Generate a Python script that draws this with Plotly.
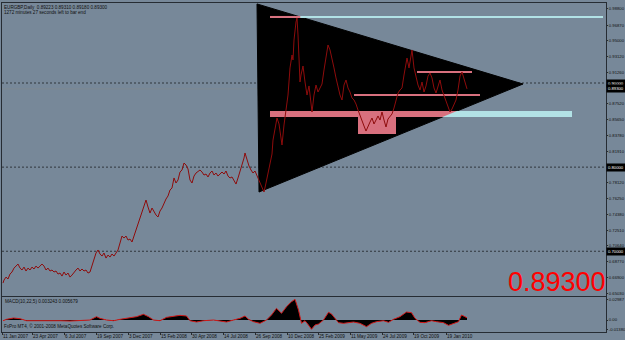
import plotly.graph_objects as go

# ---------------- data ----------------
bars = [0, 2, 6, 10, 14, 18, 22, 26, 30, 34, 38, 42, 46, 50, 54, 58, 62, 66, 70, 74, 78, 82, 86, 90, 94, 98,
        102, 106, 110, 114, 118, 122, 126, 130, 134, 138, 142, 146, 150, 154, 158, 162, 166, 170, 174, 178,
        182, 186, 190, 194, 198, 202, 206, 210, 214, 218, 222, 226, 230, 234, 238, 242, 246, 250, 254, 258,
        262, 266, 270, 274, 278, 282, 286, 290, 294, 298, 302, 306, 310, 314, 318, 322, 326, 330, 334, 338,
        342, 346, 350, 354, 358, 362, 366, 370, 374, 378, 382, 386, 390, 394, 398, 402, 406, 410, 414, 418,
        422, 426, 430, 434, 438, 442, 446, 450, 454, 458, 462, 466, 470, 474, 478, 482, 484, 488, 492, 496,
        500, 504, 508, 512, 516, 520, 522, 526, 530, 534, 538, 540, 544, 548, 552, 556, 558, 562, 566, 570,
        574, 578, 580, 582, 586, 588, 590, 592, 594, 596, 600, 604, 608, 612, 616, 618, 622, 626, 630, 634,
        638, 642, 646, 650, 654, 658, 662, 666, 670, 674, 678, 682, 686, 690, 694, 698, 702, 706, 710, 714,
        718, 722, 726, 730, 734, 738, 742, 746, 750, 754, 758, 762, 766, 770, 774, 778, 782, 786, 790, 794,
        798, 802, 806, 808, 812, 816, 818, 822, 826, 830, 834, 838, 842, 846, 850, 854, 858, 862, 866, 870,
        874, 878, 882, 886, 890, 894, 898, 902, 906, 910, 914, 918, 922, 926, 928]
closes = [0.6622, 0.6658, 0.6693, 0.6670, 0.6729, 0.6753, 0.6800, 0.6824, 0.6848, 0.6800, 0.6777, 0.6812,
          0.6765, 0.6800, 0.6777, 0.6812, 0.6789, 0.6824, 0.6800, 0.6824, 0.6848, 0.6824, 0.6777, 0.6800,
          0.6765, 0.6777, 0.6753, 0.6765, 0.6729, 0.6741, 0.6705, 0.6753, 0.6717, 0.6741, 0.6693, 0.6717,
          0.6753, 0.6777, 0.6800, 0.6765, 0.6789, 0.6765, 0.6777, 0.6741, 0.6753, 0.6824, 0.6896, 0.6979,
          0.7015, 0.6967, 0.6943, 0.6979, 0.6919, 0.6955, 0.6931, 0.6967, 0.6943, 0.6979, 0.7015, 0.7098,
          0.7181, 0.7157, 0.7181, 0.7133, 0.7145, 0.7110, 0.7181, 0.7252, 0.7312, 0.7383, 0.7454, 0.7550,
          0.7609, 0.7526, 0.7454, 0.7514, 0.7466, 0.7431, 0.7407, 0.7478, 0.7514, 0.7573, 0.7621, 0.7657,
          0.7728, 0.7752, 0.7871, 0.7811, 0.7847, 0.7942, 0.7966, 0.8049, 0.8025, 0.7978, 0.7847, 0.7811,
          0.7894, 0.7930, 0.7954, 0.7966, 0.7942, 0.7906, 0.7918, 0.7883, 0.7930, 0.7954, 0.7906, 0.7930,
          0.7894, 0.7918, 0.7942, 0.7918, 0.7954, 0.7894, 0.7871, 0.7883, 0.7835, 0.7799, 0.7871, 0.7942,
          0.8013, 0.8108, 0.8168, 0.8085, 0.8013, 0.7966, 0.7930, 0.7954, 0.7894, 0.7847, 0.7776, 0.7728,
          0.7704, 0.7811, 0.7942, 0.8049, 0.8156, 0.8322, 0.8477, 0.8584, 0.8513, 0.8322, 0.8263, 0.8501,
          0.8655, 0.8857, 0.9179, 0.9333, 0.9274, 0.9511, 0.9725, 0.9773, 0.9571, 0.9333, 0.9012, 0.9095,
          0.9202, 0.9012, 0.8857, 0.8965, 0.8798, 0.8655, 0.8857, 0.8976, 0.8893, 0.8941, 0.8988, 0.9155,
          0.9297, 0.9452, 0.9393, 0.9297, 0.9179, 0.9060, 0.8941, 0.8857, 0.8798, 0.8976, 0.9036, 0.8941,
          0.8893, 0.8822, 0.8798, 0.8750, 0.8679, 0.8608, 0.8536, 0.8489, 0.8429, 0.8489, 0.8536, 0.8584,
          0.8513, 0.8560, 0.8608, 0.8560, 0.8655, 0.8560, 0.8477, 0.8572, 0.8596, 0.8632, 0.8703, 0.8798,
          0.8881, 0.8917, 0.8941, 0.9095, 0.9250, 0.9297, 0.9179, 0.9369, 0.9393, 0.9179, 0.9060, 0.8976,
          0.8917, 0.9012, 0.8893, 0.8965, 0.9083, 0.9119, 0.9060, 0.8941, 0.8881, 0.8965, 0.9036, 0.8917,
          0.8846, 0.8774, 0.8703, 0.8655, 0.8691, 0.8750, 0.8798, 0.8917, 0.9083, 0.9131, 0.9060, 0.8965,
          0.8930]

macd_bars = [0, 7, 21, 34, 47, 61, 81, 94, 114, 134, 154, 174, 187, 194, 207, 221, 234, 247, 267, 281, 291,
             301, 314, 327, 341, 354, 367, 374, 387, 401, 421, 434, 447, 461, 474, 484, 491, 501, 514, 527,
             537, 547, 557, 567, 577, 584, 591, 597, 604, 611, 617, 624, 631, 641, 651, 657, 664, 671, 681,
             691, 701, 714, 727, 737, 747, 761, 771, 781, 794, 807, 817, 824, 834, 844, 857, 867, 881, 891,
             901, 911, 917, 924, 928]
macd_vals = [-0.0010, 0.0010, 0.0029, 0.0019, -0.0010, -0.0010, 0.0000, -0.0010, -0.0010, -0.0015, -0.0010,
             0.0000, 0.0048, 0.0024, 0.0000, -0.0010, 0.0010, 0.0029, 0.0048, 0.0082, 0.0048, 0.0000,
             -0.0010, 0.0038, 0.0058, 0.0067, 0.0058, -0.0010, -0.0029, -0.0010, 0.0000, -0.0015, -0.0029,
             0.0000, 0.0024, 0.0058, 0.0010, -0.0024, -0.0048, 0.0000, 0.0072, 0.0168, 0.0096, 0.0192,
             0.0264, 0.0298, 0.0144, -0.0048, -0.0010, -0.0072, -0.0134, -0.0072, -0.0058, 0.0000, 0.0111,
             0.0087, 0.0024, -0.0038, -0.0048, -0.0038, -0.0029, -0.0048, -0.0096, -0.0048, -0.0024,
             -0.0010, -0.0034, 0.0010, 0.0048, 0.0115, 0.0106, 0.0024, -0.0034, -0.0038, -0.0010, -0.0024,
             -0.0038, -0.0077, -0.0048, -0.0024, 0.0072, 0.0048, 0.0032]

date_tick_bars = [-2, 58, 122, 186, 250, 314, 376, 440, 504, 568, 630, 694, 758, 820, 886]
date_tick_labels = ['11 Jan 2007', '23 Apr 2007', '6 Jul 2007', '19 Sep 2007', '3 Dec 2007', '15 Feb 2008',
                    '30 Apr 2008', '14 Jul 2008', '26 Sep 2008', '10 Dec 2008', '25 Feb 2009', '11 May 2009',
                    '24 Jul 2009', '19 Oct 2009', '19 Jan 2010']

price_ticks = [0.98800, 0.96870, 0.95000, 0.93120, 0.91260, 0.87520, 0.85650, 0.83780, 0.81910,
               0.78120, 0.76250, 0.74380, 0.72510, 0.70640, 0.68770, 0.66900, 0.65030]
price_tick_labels = ['%.5f' % v for v in price_ticks]
marked_prices = [0.90000, 0.89300, 0.80000, 0.70000]
marked_labels = ['0.90000', '0.89300', '0.80000', '0.70000']
grid_levels = [0.90, 0.80, 0.70]
bid_price = 0.89300

macd_ticks = [0.02987, 0.0, -0.01380]
macd_tick_labels = ['0.02987', '0.00', '-0.01380']

header_lines = ['EURGBP,Daily  0.89223 0.89310 0.89180 0.89300',
                '1272 minutes 27 seconds left to bar end']
macd_title = 'MACD(10,22,5) 0.003243 0.005679'
copyright_text = 'FxPro MT4, © 2001-2008 MetaQuotes Software Corp.'

# drawn objects (bar index / price)
triangle_bars = [508, 512, 1040]
triangle_prices = [0.9940, 0.7704, 0.8988]
hline_levels = [0.9785, 0.9131, 0.8857]
hline_start = [534, 828, 702]
hline_end = [1200, 938, 954]
zone_low = [0.8596, 0.8394]
zone_high = [0.8667, 0.8667]
zone_start = [534, 710]
zone_end = [1138, 786]

# ---------------- styles ----------------
BG = '#778899'
FRAME = '#262c33'
CYAN = '#b2e2e6'
PINK = '#d8707e'
TXT = '#101010'
FONT = 'Liberation Sans, Arial, sans-serif'
SMALL = 4.6
AXSMALL = 4.2

tx, ty = triangle_bars, triangle_prices


def right_edge(p):
    if p >= ty[2]:
        return tx[0] + (ty[0] - p) / (ty[0] - ty[2]) * (tx[2] - tx[0])
    return tx[1] + (p - ty[1]) / (ty[2] - ty[1]) * (tx[2] - tx[1])


def left_edge(p):
    return tx[0] + (ty[0] - p) / (ty[0] - ty[1]) * (tx[1] - tx[0])


shapes = []
shapes.append(dict(type='path', xref='x', yref='y', layer='below',
                   path='M %f,%f L %f,%f L %f,%f Z' % (tx[0], ty[0], tx[1], ty[1], tx[2], ty[2]),
                   fillcolor='black', line=dict(color='black', width=1)))
for g in grid_levels:
    shapes.append(dict(type='line', xref='paper', yref='y', x0=0, x1=1, y0=g, y1=g, layer='below',
                       line=dict(color='#30363d', width=1, dash='2px,2px')))
shapes.append(dict(type='line', xref='paper', yref='y', x0=0, x1=1, y0=bid_price, y1=bid_price,
                   layer='below', line=dict(color='#7d8893', width=1)))
for lo, hi, a, b in zip(zone_low, zone_high, zone_start, zone_end):
    shapes.append(dict(type='rect', xref='x', yref='y', x0=a, x1=b, y0=lo, y1=hi, layer='below',
                       fillcolor=CYAN, line=dict(width=0)))
    pts = [(max(a, left_edge(hi)), hi), (min(b, right_edge(hi)), hi),
           (min(b, right_edge(lo)), lo), (max(a, left_edge(lo)), lo)]
    path = 'M ' + ' L '.join('%f,%f' % p for p in pts) + ' Z'
    shapes.append(dict(type='path', xref='x', yref='y', path=path, layer='below',
                       fillcolor=PINK, line=dict(width=0)))
for lv, a, b in zip(hline_levels, hline_start, hline_end):
    shapes.append(dict(type='line', xref='x', yref='y', x0=a, x1=b, y0=lv, y1=lv, layer='below',
                       line=dict(color=CYAN, width=2)))
    shapes.append(dict(type='line', xref='x', yref='y', x0=max(a, left_edge(lv)),
                       x1=min(b, right_edge(lv)), y0=lv, y1=lv, layer='below',
                       line=dict(color=PINK, width=2)))

fig = go.Figure()
fig.add_trace(go.Scatter(x=bars, y=closes, mode='lines', line=dict(color='#8e0c0c', width=1),
                         xaxis='x', yaxis='y', hoverinfo='skip'))
fig.add_trace(go.Scatter(x=macd_bars, y=macd_vals, mode='lines', fill='tozeroy', fillcolor='black',
                         line=dict(color='#d01818', width=1), xaxis='x2', yaxis='y2', hoverinfo='skip'))

annotations = []
for i, t in enumerate(header_lines):
    annotations.append(dict(text=t, xref='paper', yref='paper', x=0, y=1, xanchor='left', yanchor='top',
                            xshift=1, yshift=-1 - 5 * i, showarrow=False, borderpad=0,
                            font=dict(family=FONT, size=SMALL, color=TXT)))
for p, t in zip(marked_prices, marked_labels):
    annotations.append(dict(text=t, xref='paper', yref='y', x=1, y=p, xanchor='left', yanchor='middle',
                            showarrow=False, bgcolor='black', borderpad=1,
                            font=dict(family=FONT, size=AXSMALL, color='white')))
for b, t in zip(date_tick_bars, date_tick_labels):
    annotations.append(dict(text=t, xref='x2', yref='paper', x=b, y=0, xanchor='left', yanchor='top',
                            showarrow=False, borderpad=0, yshift=-1,
                            font=dict(family=FONT, size=SMALL, color=TXT)))
annotations.append(dict(text=macd_title, xref='paper', yref='paper', x=0, y=0.1064, xanchor='left',
                        yanchor='top', xshift=2, yshift=-1, showarrow=False, borderpad=0,
                        font=dict(family=FONT, size=SMALL, color=TXT)))
annotations.append(dict(text=copyright_text, xref='paper', yref='paper', x=0, y=0, xanchor='left',
                        yanchor='bottom', xshift=1, yshift=2, showarrow=False, borderpad=0,
                        font=dict(family=FONT, size=SMALL, color=TXT)))
annotations.append(dict(text='%.5f' % bid_price, xref='paper', yref='y', x=1, y=0.6634, xanchor='right',
                        yanchor='middle', xshift=1, showarrow=False, borderpad=0,
                        font=dict(family=FONT, size=27, color='#ff0000')))

axis_common = dict(showgrid=False, zeroline=False, showline=True, mirror=True, linecolor=FRAME,
                   linewidth=1)

fig.update_layout(
    width=625, height=340,
    margin=dict(l=2, r=19, t=3, b=8, autoexpand=False),
    paper_bgcolor=BG, plot_bgcolor=BG,
    showlegend=False,
    font=dict(family=FONT, size=SMALL, color=TXT),
    xaxis=dict(domain=[0, 1], range=[-2, 1206], anchor='y', showticklabels=False, ticks='',
               **axis_common),
    xaxis2=dict(domain=[0, 1], range=[-2, 1206], anchor='y2', showticklabels=False, ticks='outside',
                ticklen=2, tickcolor=FRAME, tickvals=date_tick_bars, **axis_common),
    yaxis=dict(domain=[0.1094, 1], range=[0.6468, 0.9951], side='right', anchor='x',
               tickvals=price_ticks, ticktext=price_tick_labels, ticks='outside', ticklen=1,
               ticklabelstandoff=0,
               tickcolor=FRAME, tickfont=dict(family=FONT, size=AXSMALL, color=TXT), **axis_common),
    yaxis2=dict(domain=[0, 0.1064], range=[-0.0173, 0.0332], side='right', anchor='x2',
                tickvals=macd_ticks, ticktext=macd_tick_labels, ticks='outside', ticklen=1,
                ticklabelstandoff=0,
                tickcolor=FRAME, tickfont=dict(family=FONT, size=AXSMALL, color=TXT), **axis_common),
    shapes=shapes,
    annotations=annotations,
)

fig.write_html('out.html')
